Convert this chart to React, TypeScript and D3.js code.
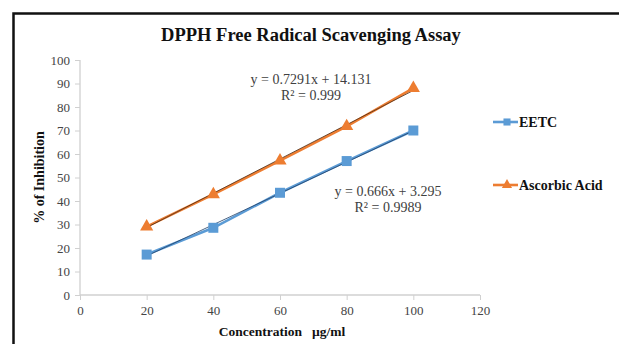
import React, { useRef, useEffect } from "react";
import * as d3 from "d3";

const concentrations = [20, 40, 60, 80, 100];
const eetc = [17.2, 28.6, 43.5, 57, 70];
const ascorbic = [29.1, 42.8, 57.2, 71.8, 88];
const xTicks = [0, 20, 40, 60, 80, 100, 120];
const yTicks = [0, 10, 20, 30, 40, 50, 60, 70, 80, 90, 100];

const series = [
  { name: "EETC", values: eetc, color: "#5B9BD5", trendColor: "#1f3f66", slope: 0.666, icept: 3.295, eq: "y = 0.666x + 3.295", r2: "R² = 0.9989", marker: "square" },
  { name: "Ascorbic Acid", values: ascorbic, color: "#ED7D31", trendColor: "#4a2a14", slope: 0.7291, icept: 14.131, eq: "y = 0.7291x + 14.131", r2: "R² = 0.999", marker: "triangle" },
];

const FONT = "'Liberation Serif', 'Times New Roman', serif";

const App = () => {
  const svgRef = useRef<SVGSVGElement>(null);

  useEffect(() => {
    const svg = d3.select(svgRef.current);
    svg.selectAll("*").remove();

    const width = 619;
    const height = 344;

    const x = d3.scaleLinear().domain([0, 120]).range([80, 480]);
    const y = d3.scaleLinear().domain([0, 100]).range([295, 60]);

    svg.append("rect").attr("width", width).attr("height", height).attr("fill", "#fff");

    // outer frame (runs off the right and bottom)
    svg
      .append("rect")
      .attr("x", 13.5)
      .attr("y", 13.5)
      .attr("width", width + 20)
      .attr("height", height + 20)
      .attr("fill", "none")
      .attr("stroke", "#111")
      .attr("stroke-width", 2.5);

    svg
      .append("text")
      .attr("x", 311)
      .attr("y", 41)
      .attr("text-anchor", "middle")
      .attr("font-family", FONT)
      .attr("font-weight", "bold")
      .attr("font-size", 18.5)
      .attr("fill", "#111")
      .text("DPPH Free Radical Scavenging Assay");

    const xAxis = svg
      .append("g")
      .attr("transform", `translate(0,${y(0)})`)
      .call(d3.axisBottom(x).tickValues(xTicks).tickSize(5).tickPadding(6));
    const yAxis = svg
      .append("g")
      .attr("transform", `translate(${x(0)},0)`)
      .call(d3.axisLeft(y).tickValues(yTicks).tickSize(5).tickPadding(5));

    [xAxis, yAxis].forEach((g) => {
      g.select(".domain").attr("stroke", "#d0d0d0").attr("stroke-width", 1.3);
      g.selectAll(".tick line").attr("stroke", "#d0d0d0");
      g.selectAll(".tick text")
        .attr("font-family", FONT)
        .attr("font-size", 13)
        .attr("fill", "#444");
    });
    yAxis.select(".domain").attr("d", `M0,${y(100)}V${y(0)}`);
    xAxis.select(".domain").attr("d", `M${x(0)},0H${x(120)}`);

    svg
      .append("text")
      .attr("x", 282)
      .attr("y", 336)
      .attr("text-anchor", "middle")
      .attr("font-family", FONT)
      .attr("font-weight", "bold")
      .attr("font-size", 13.5)
      .attr("fill", "#111")
      .style("white-space", "pre")
      .text("Concentration   µg/ml");

    svg
      .append("text")
      .attr("transform", `translate(44,${y(50)}) rotate(-90)`)
      .attr("text-anchor", "middle")
      .attr("font-family", FONT)
      .attr("font-weight", "bold")
      .attr("font-size", 14)
      .attr("fill", "#111")
      .text("% of Inhibition");

    const line = d3
      .line<number>()
      .x((_, i) => x(concentrations[i]))
      .y((d) => y(d));

    const square = d3.symbol().type(d3.symbolSquare).size(100);
    const triangle = d3.symbol().type(d3.symbolTriangle).size(75);

    series.forEach((s) => {
      svg
        .append("path")
        .datum(s.values)
        .attr("d", line)
        .attr("fill", "none")
        .attr("stroke", s.color)
        .attr("stroke-width", 2.6);

      const x0 = concentrations[0];
      const x1 = concentrations[concentrations.length - 1];
      svg
        .append("line")
        .attr("x1", x(x0))
        .attr("x2", x(x1))
        .attr("y1", y(s.slope * x0 + s.icept))
        .attr("y2", y(s.slope * x1 + s.icept))
        .attr("stroke", s.trendColor)
        .attr("stroke-opacity", 0.8)
        .attr("stroke-width", 1);

      svg
        .append("g")
        .selectAll("path")
        .data(s.values)
        .join("path")
        .attr("transform", (d, i) => `translate(${x(concentrations[i])},${y(d)})`)
        .attr("d", s.marker === "square" ? square() : triangle())
        .attr("fill", s.color);
    });

    // trendline equations
    const eqPos = [
      { cx: 388, cy: 196 },
      { cx: 311, cy: 84 },
    ];
    series.forEach((s, i) => {
      const t = svg
        .append("text")
        .attr("text-anchor", "middle")
        .attr("font-family", FONT)
        .attr("font-size", 14)
        .attr("fill", "#404040");
      t.append("tspan").attr("x", eqPos[i].cx).attr("y", eqPos[i].cy).text(s.eq);
      t.append("tspan").attr("x", eqPos[i].cx).attr("y", eqPos[i].cy + 16).text(s.r2);
    });

    // legend
    const legendY = [122, 185];
    series.forEach((s, i) => {
      const g = svg.append("g").attr("transform", `translate(493,${legendY[i]})`);
      g.append("line").attr("x1", 0).attr("x2", 25).attr("stroke", s.color).attr("stroke-width", 2.6);
      g.append("path")
        .attr("transform", "translate(14,0)")
        .attr("d", s.marker === "square" ? d3.symbol().type(d3.symbolSquare).size(50)() : d3.symbol().type(d3.symbolTriangle).size(45)())
        .attr("fill", s.color);
      g.append("text")
        .attr("x", 26)
        .attr("y", 4.5)
        .attr("font-family", FONT)
        .attr("font-weight", "bold")
        .attr("font-size", 14)
        .attr("fill", "#111")
        .text(s.name);
    });
  }, []);

  return (
    <svg
      ref={svgRef}
      width={619}
      height={344}
      style={{ position: "absolute", left: 0, top: 0, display: "block" }}
    ></svg>
  );
};

export default App;
